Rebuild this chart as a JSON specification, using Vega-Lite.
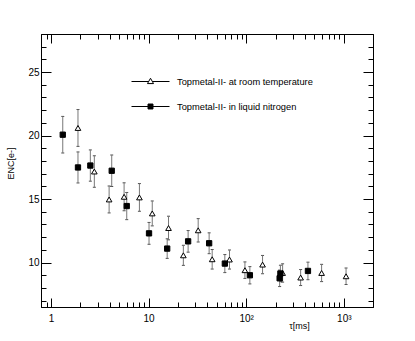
{
  "$schema": "https://vega.github.io/schema/vega-lite/v6.json",
  "width": 332,
  "height": 273,
  "autosize": "none",
  "padding": {"left": 41, "top": 34, "right": 42, "bottom": 34},
  "background": "white",
  "config": {
    "font": "Liberation Sans",
    "view": {"stroke": "black", "strokeWidth": 1},
    "axis": {"grid": false, "domainColor": "black", "tickColor": "black", "labelFont": "Liberation Sans", "titleFont": "Liberation Sans", "labelColor": "black", "titleColor": "black", "titleFontWeight": "normal"}
  },
  "data": {
    "values": [
      {"series": "Topmetal-II- at room temperature", "tau": 1.89, "enc": 20.6, "err": 1.45},
      {"series": "Topmetal-II- at room temperature", "tau": 2.78, "enc": 17.17, "err": 1.24},
      {"series": "Topmetal-II- at room temperature", "tau": 3.94, "enc": 14.97, "err": 1.06},
      {"series": "Topmetal-II- at room temperature", "tau": 5.61, "enc": 15.18, "err": 1.1},
      {"series": "Topmetal-II- at room temperature", "tau": 8.05, "enc": 15.13, "err": 1.09},
      {"series": "Topmetal-II- at room temperature", "tau": 10.9, "enc": 13.87, "err": 0.98},
      {"series": "Topmetal-II- at room temperature", "tau": 16.0, "enc": 12.72, "err": 0.93},
      {"series": "Topmetal-II- at room temperature", "tau": 22.7, "enc": 10.57, "err": 0.79},
      {"series": "Topmetal-II- at room temperature", "tau": 32.2, "enc": 12.54, "err": 0.92},
      {"series": "Topmetal-II- at room temperature", "tau": 44.8, "enc": 10.26, "err": 0.77},
      {"series": "Topmetal-II- at room temperature", "tau": 67.4, "enc": 10.24, "err": 0.75},
      {"series": "Topmetal-II- at room temperature", "tau": 97, "enc": 9.4, "err": 0.65},
      {"series": "Topmetal-II- at room temperature", "tau": 147, "enc": 9.84, "err": 0.72},
      {"series": "Topmetal-II- at room temperature", "tau": 236, "enc": 9.18, "err": 0.72},
      {"series": "Topmetal-II- at room temperature", "tau": 361, "enc": 8.82, "err": 0.63},
      {"series": "Topmetal-II- at room temperature", "tau": 592, "enc": 9.18, "err": 0.68},
      {"series": "Topmetal-II- at room temperature", "tau": 1054, "enc": 8.92, "err": 0.65},
      {"series": "Topmetal-II- in liquid nitrogen", "tau": 1.32, "enc": 20.07, "err": 1.44},
      {"series": "Topmetal-II- in liquid nitrogen", "tau": 1.89, "enc": 17.49, "err": 1.22},
      {"series": "Topmetal-II- in liquid nitrogen", "tau": 2.53, "enc": 17.64, "err": 1.23},
      {"series": "Topmetal-II- in liquid nitrogen", "tau": 4.19, "enc": 17.23, "err": 1.24},
      {"series": "Topmetal-II- in liquid nitrogen", "tau": 5.97, "enc": 14.45, "err": 1.07},
      {"series": "Topmetal-II- in liquid nitrogen", "tau": 10.1, "enc": 12.3, "err": 0.86},
      {"series": "Topmetal-II- in liquid nitrogen", "tau": 15.5, "enc": 11.1, "err": 0.77},
      {"series": "Topmetal-II- in liquid nitrogen", "tau": 25.4, "enc": 11.67, "err": 0.85},
      {"series": "Topmetal-II- in liquid nitrogen", "tau": 41.7, "enc": 11.52, "err": 0.82},
      {"series": "Topmetal-II- in liquid nitrogen", "tau": 60.4, "enc": 9.92, "err": 0.71},
      {"series": "Topmetal-II- in liquid nitrogen", "tau": 109, "enc": 9.0, "err": 0.68},
      {"series": "Topmetal-II- in liquid nitrogen", "tau": 220, "enc": 8.76, "err": 0.65},
      {"series": "Topmetal-II- in liquid nitrogen", "tau": 224, "enc": 9.14, "err": 0.65},
      {"series": "Topmetal-II- in liquid nitrogen", "tau": 429, "enc": 9.34, "err": 0.69}
    ]
  },
  "layer": [
    {
      "mark": {"type": "errorbar", "rule": {"color": "#777777", "strokeWidth": 1}, "ticks": {"color": "black", "size": 3}},
      "encoding": {
        "x": {"field": "tau", "type": "quantitative", "scale": {"type": "log", "domain": [0.79, 1990], "nice": false}, "axis": null},
        "y": {"field": "enc", "type": "quantitative", "scale": {"domain": [6.5, 28], "nice": false, "zero": false}, "axis": null},
        "yError": {"field": "err"}
      }
    },
    {
      "transform": [{"filter": "datum.series === 'Topmetal-II- at room temperature'"}],
      "mark": {"type": "point", "shape": "triangle-up", "filled": true, "fill": "white", "stroke": "black", "strokeWidth": 1, "size": 32, "opacity": 1},
      "encoding": {
        "x": {"field": "tau", "type": "quantitative",
          "axis": {"orient": "bottom", "values": [0.9, 1, 2, 3, 4, 5, 6, 7, 8, 9, 10, 20, 30, 40, 50, 60, 70, 80, 90, 100, 200, 300, 400, 500, 600, 700, 800, 900, 1000],
            "labelExpr": "datum.value == 1 ? '1' : datum.value == 10 ? '10' : datum.value == 100 ? '10²' : datum.value == 1000 ? '10³' : ''",
            "labelOverlap": false, "labelFlush": false, "labelFontSize": 10, "labelPadding": 15,
            "tickSize": {"condition": {"test": "indexof([1,10,100,1000], datum.value) >= 0", "value": -9}, "value": -5},
            "title": "τ[ms]", "titleFontSize": 9, "titleX": 258, "titleY": 21, "titleBaseline": "alphabetic", "titleAlign": "center"}},
        "y": {"field": "enc", "type": "quantitative",
          "axis": {"orient": "left", "values": [7, 8, 9, 10, 11, 12, 13, 14, 15, 16, 17, 18, 19, 20, 21, 22, 23, 24, 25, 26, 27],
            "labelExpr": "datum.value % 5 === 0 ? datum.label : ''",
            "labelOverlap": false, "labelFlush": false, "labelFontSize": 10, "labelPadding": 12,
            "tickSize": {"condition": {"test": "datum.value % 5 === 0", "value": -10}, "value": -5},
            "title": "ENC[e-]", "titleFontSize": 9, "titleX": -31, "titleY": 129, "titleAngle": -90, "titleBaseline": "middle", "titleAlign": "center"}}
      }
    },
    {
      "transform": [{"filter": "datum.series === 'Topmetal-II- in liquid nitrogen'"}],
      "mark": {"type": "point", "shape": "square", "filled": true, "fill": "black", "stroke": "black", "strokeWidth": 1, "size": 28, "opacity": 1},
      "encoding": {
        "x": {"field": "tau", "type": "quantitative", "axis": null},
        "y": {"field": "enc", "type": "quantitative", "axis": null}
      }
    },
    {
      "mark": {"type": "point", "filled": true, "opacity": 0, "strokeWidth": 1},
      "encoding": {
        "x": {"field": "tau", "type": "quantitative",
          "axis": {"orient": "top", "values": [0.9, 1, 2, 3, 4, 5, 6, 7, 8, 9, 10, 20, 30, 40, 50, 60, 70, 80, 90, 100, 200, 300, 400, 500, 600, 700, 800, 900, 1000],
            "labels": false, "title": null,
            "tickSize": {"condition": {"test": "indexof([1,10,100,1000], datum.value) >= 0", "value": -9}, "value": -5}}},
        "y": {"field": "enc", "type": "quantitative",
          "axis": {"orient": "right", "values": [7, 8, 9, 10, 11, 12, 13, 14, 15, 16, 17, 18, 19, 20, 21, 22, 23, 24, 25, 26, 27],
            "labels": false, "title": null,
            "tickSize": {"condition": {"test": "datum.value % 5 === 0", "value": -10}, "value": -5}}},
        "shape": {"field": "series", "type": "nominal",
          "scale": {"domain": ["Topmetal-II- at room temperature", "Topmetal-II- in liquid nitrogen"], "range": ["M-1,0H-0.1M0.1,0H1M0,-0.17L0.16,0.11L-0.16,0.11Z", "M-1,0H1M-0.13,-0.13H0.13V0.13H-0.13Z"]},
          "legend": {"orient": "none", "legendX": 90, "legendY": 28, "title": null, "padding": 0, "labelFontSize": 9.3, "labelFont": "Liberation Sans", "labelColor": "black", "labelOffset": 7, "symbolSize": 1444, "rowPadding": -12, "symbolStrokeWidth": 1, "symbolOpacity": 1}},
        "fill": {"field": "series", "type": "nominal",
          "scale": {"domain": ["Topmetal-II- at room temperature", "Topmetal-II- in liquid nitrogen"], "range": ["white", "black"]},
          "legend": {"orient": "none", "legendX": 90, "legendY": 28, "title": null, "padding": 0, "labelFontSize": 9.3, "labelFont": "Liberation Sans", "labelColor": "black", "labelOffset": 7, "symbolSize": 1444, "rowPadding": -12, "symbolStrokeWidth": 1, "symbolOpacity": 1}},
        "stroke": {"field": "series", "type": "nominal",
          "scale": {"domain": ["Topmetal-II- at room temperature", "Topmetal-II- in liquid nitrogen"], "range": ["black", "black"]},
          "legend": {"orient": "none", "legendX": 90, "legendY": 28, "title": null, "padding": 0, "labelFontSize": 9.3, "labelFont": "Liberation Sans", "labelColor": "black", "labelOffset": 7, "symbolSize": 1444, "rowPadding": -12, "symbolStrokeWidth": 1, "symbolOpacity": 1}}
      }
    }
  ],
  "resolve": {"axis": {"x": "independent", "y": "independent"}}
}
